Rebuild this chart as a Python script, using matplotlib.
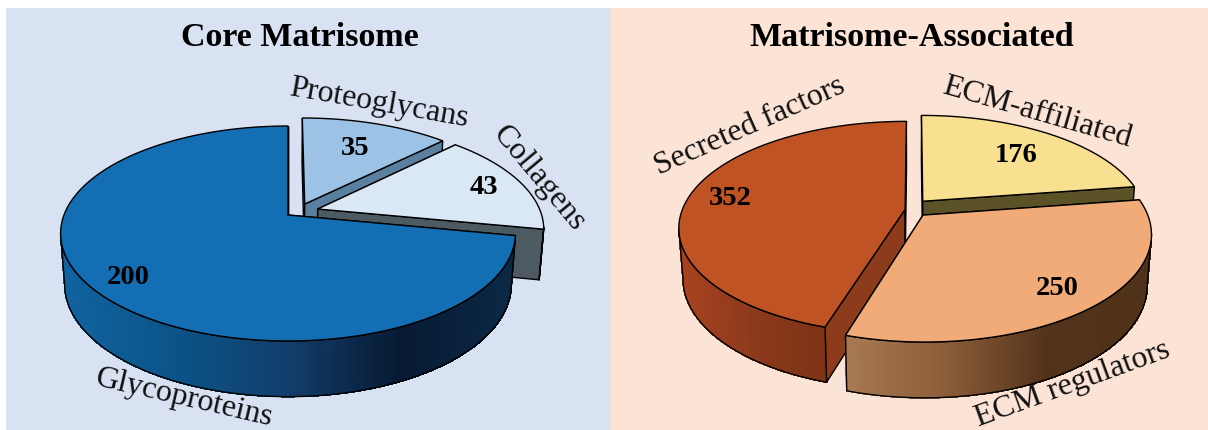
import numpy as np
import matplotlib
matplotlib.use('Agg')
import matplotlib.pyplot as plt
from matplotlib.collections import PolyCollection
from matplotlib.colors import LinearSegmentedColormap
from matplotlib.patches import Polygon, Rectangle

core_labels = ['Glycoproteins', 'Proteoglycans', 'Collagens']
core_values = [200, 35, 43]
assoc_labels = ['Secreted factors', 'ECM-affiliated', 'ECM regulators']
assoc_values = [352, 176, 250]

plt.rcParams['font.family'] = ['Liberation Serif', 'DejaVu Serif']

# pie geometry, in pixels of the final image
K = 0.172               # perspective of the tilted disc
RX_TOP, RY_TOP = 224, 104.3
RX_BOT, RY_BOT = 220, 109
DEPTH = 50


def project(X, Y, cx, cy, rx, ry):
    w = 1 + K * Y
    return cx + rx * X / w, cy - ry * Y / w


def draw_slice(ax, cx, cy, a0, a1, off, top_color, face_color, wall_colors):
    t = np.radians(np.linspace(a0, a1, 400))
    X = np.sin(t) + off[0]
    Y = np.cos(t) + off[1]
    xt, yt = project(X, Y, cx, cy, RX_TOP, RY_TOP)
    xb, yb = project(X, Y, cx, cy + DEPTH, RX_BOT, RY_BOT)
    apex_t = project(off[0], off[1], cx, cy, RX_TOP, RY_TOP)
    apex_b = project(off[0], off[1], cx, cy + DEPTH, RX_BOT, RY_BOT)

    # the two cut faces
    for i in (0, -1):
        ax.add_patch(Polygon([apex_t, (xt[i], yt[i]), (xb[i], yb[i]), apex_b],
                             fc=face_color, ec='black', lw=1.0))

    # curved wall, only the part turned towards the viewer, shaded left to right
    front = np.cos(t) < -K
    if front.sum() > 1:
        xt2, yt2, xb2, yb2 = xt[front], yt[front], xb[front], yb[front]
        cmap = LinearSegmentedColormap.from_list('wall', wall_colors)
        quads = []
        cols = []
        for i in range(len(xt2) - 1):
            quads.append([(xt2[i], yt2[i]), (xt2[i + 1], yt2[i + 1]),
                          (xb2[i + 1], yb2[i + 1]), (xb2[i], yb2[i])])
            cols.append(cmap((xb2[i] - xb2.min()) / (xb2.max() - xb2.min())))
        ax.add_collection(PolyCollection(quads, facecolors=cols, edgecolors=cols,
                                         lw=0.6, antialiaseds=False))
        ax.add_patch(Polygon(np.r_[np.c_[xt2, yt2], np.c_[xb2, yb2][::-1]],
                             fill=False, ec='black', lw=1.0))

    # top of the slice
    ax.add_patch(Polygon(np.r_[[apex_t], np.c_[xt, yt]],
                         fc=top_color, ec='black', lw=1.0))


def slice_angles(values, order):
    # clockwise from twelve o'clock, in the order the wedges sit around the pie
    total = float(sum(values))
    start = 0.0
    res = {}
    for i in order:
        sweep = values[i] / total * 360
        res[i] = (start, start + sweep)
        start += sweep
    return res


fig = plt.figure(figsize=(12.08, 4.31), dpi=100)
ax = fig.add_axes([0, 0, 1, 1])
ax.set_xlim(0, 1208)
ax.set_ylim(431, 0)
ax.axis('off')

ax.add_patch(Rectangle((6, 9), 604, 422, fc='#d9e2f3', ec='none'))
ax.add_patch(Rectangle((610, 9), 598, 422, fc='#fbe3d6', ec='none'))

# left pie: proteoglycans, collagens, then glycoproteins running round to the top
core_ang = slice_angles(core_values, [1, 2, 0])
draw_slice(ax, 288, 216, *core_ang[1], (0.076, 0.107), '#9cc2e5', '#5b7f9f',
           ['#5b7f9f', '#5b7f9f'])
draw_slice(ax, 288, 216, *core_ang[2], (0.134, 0.058), '#dae8f6', '#4d5a62',
           ['#4d5a62', '#4d5a62'])
draw_slice(ax, 288, 216, *core_ang[0], (0, 0), '#146eb4', '#0b2946',
           ['#11639f', '#0b5488', '#123e6c', '#071a33', '#0b2946'])

# right pie
assoc_ang = slice_angles(assoc_values, [1, 2, 0])
draw_slice(ax, 914, 214, *assoc_ang[1], (0.04, 0.115), '#f9e090', '#5b5228',
           ['#5b5228', '#5b5228'])
draw_slice(ax, 914, 214, *assoc_ang[0], (-0.04, 0.035), '#c05323', '#8c3b1b',
           ['#a8421f', '#8c3a1c', '#7c3314'])
draw_slice(ax, 914, 214, *assoc_ang[2], (0.04, -0.02), '#f0ab79', '#52321a',
           ['#a87a52', '#8a5c38', '#52321a', '#4f3219'])

ax.text(300, 37, 'Core Matrisome', fontsize=24.5, fontweight='bold', ha='center', va='center')
ax.text(912, 37, 'Matrisome-Associated', fontsize=24.5, fontweight='bold', ha='center', va='center')

# value labels
for v, x, y in zip(core_values, [128, 355, 484], [278, 149, 188]):
    ax.text(x, y, str(v), fontsize=20.5, fontweight='bold', ha='center', va='center')
for v, x, y in zip(assoc_values, [730, 1016, 1057], [199, 156, 289]):
    ax.text(x, y, str(v), fontsize=20.5, fontweight='bold', ha='center', va='center')

# slice names, tilted to follow the rim
for s, x, y, r in zip(core_labels, [184, 379, 539], [398, 103, 179], [-13, -10, -50]):
    ax.text(x, y, s, fontsize=23, ha='center', va='center', rotation=r,
            rotation_mode='anchor', color='#111111')
for s, x, y, r in zip(assoc_labels, [750, 1037, 1073], [126, 113, 384], [24, -16, 20]):
    ax.text(x, y, s, fontsize=23, ha='center', va='center', rotation=r,
            rotation_mode='anchor', color='#111111')

fig.savefig('out.png', dpi=100)
